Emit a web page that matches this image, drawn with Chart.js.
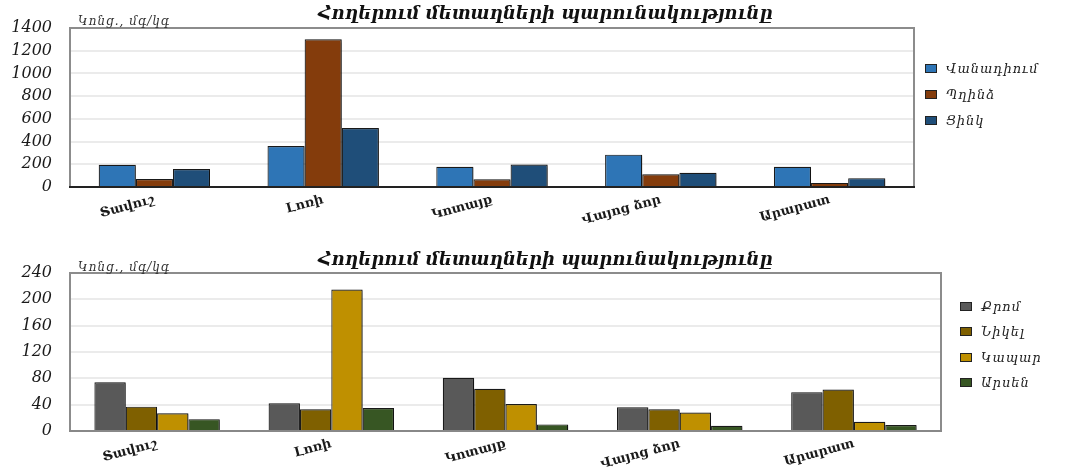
<!DOCTYPE html>
<html><head><meta charset="utf-8">
<script src="https://cdn.jsdelivr.net/npm/chart.js@4"></script>
<style>
body{margin:0;background:#fff;width:1071px;height:472px;overflow:hidden;font-family:"DejaVu Serif",serif;position:relative}
.panel{position:absolute;left:0;width:1071px;height:236px}
.title{position:absolute;left:10px;width:1071px;text-align:center;font-style:italic;font-weight:bold;font-size:18px;line-height:22px;color:#111}
.unit{position:absolute;left:78px;font-style:italic;font-size:12px;line-height:14px;letter-spacing:1px;color:#333}
.legend{position:absolute;font-style:italic;font-size:13px;letter-spacing:1px;color:#222}
.legend div{display:flex;align-items:center;white-space:nowrap}
.legend span.box{display:inline-block;width:10px;height:7px;border:1px solid #222;margin-right:9px;flex:none}
</style></head><body>
<div class="panel" style="top:0"><canvas id="c1"></canvas></div>
<div class="panel" style="top:236px"><canvas id="c2"></canvas></div>
<div class="title" id="t1" style="top:2px"></div>
<div class="unit" id="u1" style="top:14px"></div>
<div class="legend" id="l1" style="left:925px;top:55px"></div>
<div class="title" id="t2" style="top:248px"></div>
<div class="unit" id="u2" style="top:260px"></div>
<div class="legend" id="l2" style="left:960px;top:294px"></div>
<script>
const chartTitle = 'Հողերում մետաղների պարունակությունը';
const unitLabel = 'Կոնց., մգ/կգ';
const categories = ['Տավուշ', 'Լոռի', 'Կոտայք', 'Վայոց ձոր', 'Արարատ'];

const seriesTop = ['Վանադիում', 'Պղինձ', 'Ցինկ'];
const vanadium = [195, 360, 178, 285, 178];
const copper = [70, 1300, 68, 112, 36];
const zinc = [158, 520, 198, 126, 78];
const colorsTop = ['#2e75b6', '#843c0c', '#1f4e79'];
const topMax = 1400, topStep = 200;

const seriesBottom = ['Քրոմ', 'Նիկել', 'Կապար', 'Արսեն'];
const chromium = [74, 42, 81, 36, 59];
const nickel = [37, 33, 64, 33, 63];
const lead = [27, 215, 41, 28, 14];
const arsenic = [18, 35, 10, 8, 9];
const colorsBottom = ['#595959', '#7f6000', '#bf9000', '#375623'];
const bottomMax = 240, bottomStep = 40;

const serif = '"DejaVu Serif", serif';

function frame(bottomColor){
  return {
    id:'frame',
    afterDraw(chart){
      const {ctx, chartArea:a} = chart;
      ctx.save();
      ctx.lineWidth = 2;
      ctx.strokeStyle = '#8c8c8c';
      ctx.beginPath();
      ctx.moveTo(a.left, a.bottom); ctx.lineTo(a.left, a.top); ctx.lineTo(a.right, a.top); ctx.lineTo(a.right, a.bottom);
      ctx.stroke();
      ctx.strokeStyle = bottomColor;
      ctx.beginPath(); ctx.moveTo(a.left-1, a.bottom); ctx.lineTo(a.right+1, a.bottom); ctx.stroke();
      ctx.restore();
    }
  };
}
const shadow = {
  id:'shadow',
  beforeDatasetsDraw(chart){
    const ctx = chart.ctx; ctx.save();
    ctx.shadowColor = 'rgba(0,0,0,0.35)'; ctx.shadowOffsetX = 2; ctx.shadowOffsetY = 1; ctx.shadowBlur = 2;
  },
  afterDatasetsDraw(chart){ chart.ctx.restore(); }
};

function makeChart(id, names, values, colors, max, step, opts){
  return new Chart(document.getElementById(id), {
    type:'bar',
    data:{
      labels: categories,
      datasets: names.map((n,i)=>({label:n, data:values[i], backgroundColor:colors[i], borderColor:'#1a1a1a', borderWidth:1.2,
        categoryPercentage:opts.cat, barPercentage:1.0}))
    },
    options:{
      responsive:true, maintainAspectRatio:false, animation:false,
      layout:{padding:{left:0, right:opts.right, top:opts.top, bottom:0}},
      plugins:{legend:{display:false}, title:{display:false}, tooltip:{enabled:false}},
      scales:{
        x:{
          grid:{display:false}, border:{display:false},
          ticks:{minRotation:15, maxRotation:15, padding:opts.xpad, color:'#1a1a1a', font:{family:serif, size:13, weight:'bold'}},
          afterFit(s){ s.height = opts.xh; }
        },
        y:{
          min:0, max:max,
          grid:{color:(c)=> (c.tick.value===0||c.tick.value===max)?'rgba(0,0,0,0)':'#ebebeb', lineWidth:2, drawTicks:false},
          border:{display:false},
          ticks:{stepSize:step, padding:18, color:'#1a1a1a', callback:(v)=>String(v), font:{family:serif, size:16, style:'italic'}},
          afterFit(s){ s.width = 70; }
        }
      }
    },
    plugins:[shadow, frame(opts.bottomColor)]
  });
}

makeChart('c1', seriesTop, [vanadium, copper, zinc], colorsTop, topMax, topStep,
  {cat:0.66, right:157, top:28, xh:49, xpad:-3, bottomColor:'#222'});
makeChart('c2', seriesBottom, [chromium, nickel, lead, arsenic], colorsBottom, bottomMax, bottomStep,
  {cat:0.72, right:130, top:37, xh:41, xpad:-3, bottomColor:'#888'});

function legend(id, names, colors, h){
  const el = document.getElementById(id);
  names.forEach((n,i)=>{
    const d = document.createElement('div'); d.style.height = h+'px';
    const b = document.createElement('span'); b.className='box'; b.style.background = colors[i];
    const t = document.createElement('span'); t.textContent = n;
    d.appendChild(b); d.appendChild(t); el.appendChild(d);
  });
}
legend('l1', seriesTop, colorsTop, 26);
legend('l2', seriesBottom, colorsBottom, 25.3);
document.getElementById('t1').textContent = chartTitle;
document.getElementById('t2').textContent = chartTitle;
document.getElementById('u1').textContent = unitLabel;
document.getElementById('u2').textContent = unitLabel;
</script>
</body></html>
